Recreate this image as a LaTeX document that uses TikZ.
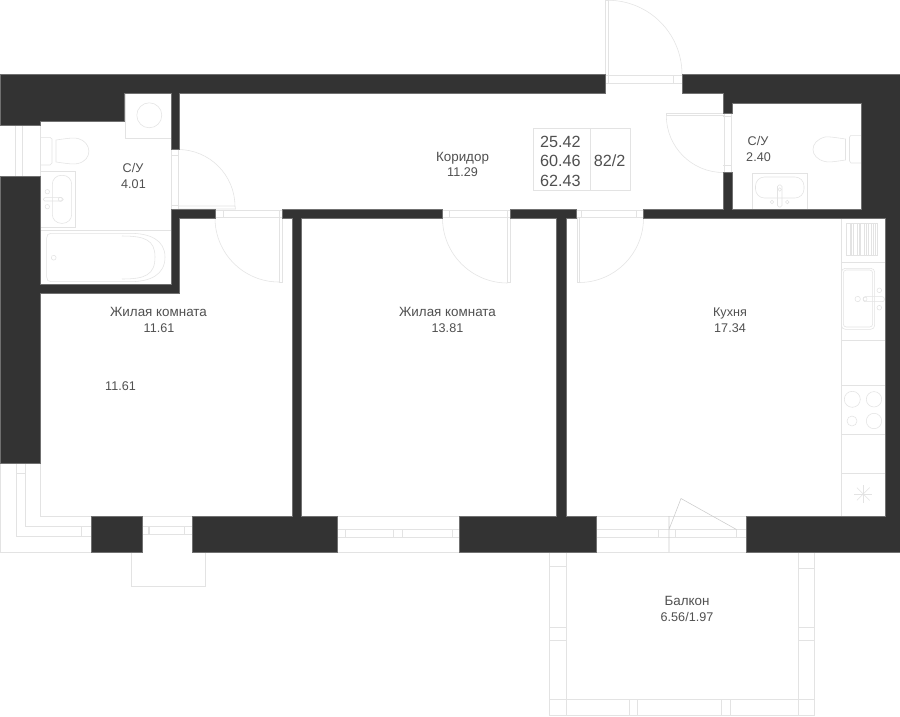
\documentclass[tikz,border=0pt]{standalone}
\usepackage{fontspec}
\setmainfont{Liberation Sans}
\definecolor{wallc}{HTML}{333333}
\definecolor{fixc}{HTML}{E3E3E3}
\definecolor{txtc}{HTML}{505050}
\tikzset{
  wall/.style={fill=wallc,draw=wallc!70!white,line width=.25pt},
  fx/.style={draw=fixc,line width=.55pt,fill=none},
  lbl/.style={text=txtc,font=\fontsize{12.6}{14}\selectfont,inner sep=0pt,anchor=base},
  word/.style={text=txtc,font=\fontsize{13.4}{14}\selectfont,inner sep=0pt,anchor=base},
  big/.style={text=txtc,font=\fontsize{16.2}{18}\selectfont,inner sep=0pt,anchor=base}
}
\begin{document}
\begin{tikzpicture}[x=1pt,y=-1pt]
\useasboundingbox[fill=white] (0,0) rectangle (900,716);
% --- thin fixtures, windows, doors
\draw[fx] (0.5,463)--(0.5,552)--(91.5,552);
\draw[fx] (16.5,463)--(16.5,536)--(91.5,536);
\draw[fx] (25.5,463)--(25.5,526)--(91.5,526);
\draw[fx] (40.5,463)--(40.5,516)--(91.5,516);
\draw[fx] (16.5,473.5)--(25.5,473.5) (81,526)--(81,536);
% left upper window
\draw[fx] (0,125.5)--(40.5,125.5) (0,176)--(40.5,176) (40.5,125.5)--(40.5,176) (15.5,125.5)--(15.5,176) (22.5,125.5)--(22.5,176);
% window 142-192
\draw[fx] (142,516)--(192.5,516) (142,526)--(192.5,526) (142,534.5)--(192.5,534.5);
\draw[fx] (148,526)--(148,534.5) (149,526)--(149,534.5) (184.5,526)--(184.5,534.5);
\draw[fx] (131.5,552)--(131.5,586)--(205.5,586)--(205.5,552);
% window 337-460
\draw[fx] (337.5,516)--(459.5,516) (337.5,529.5)--(459.5,529.5) (337.5,537.5)--(459.5,537.5) (337.5,552)--(459.5,552);
\foreach \q in {345,393,402.5,451.8} \draw[fx] (\q,529.5)--(\q,537.5);
% window/door 596-746
\draw[fx] (596,516)--(746,516) (596,529.5)--(746,529.5) (596,537.5)--(746,537.5) (596,552)--(746,552);
\foreach \q in {658.7,675.5,736.5} \draw[fx] (\q,529.5)--(\q,537.5);
\draw[fx,draw=fixc!90!black] (669,516)--(669,552) (669,529.5)--(681,498.5)--(736.5,529.5);
% balcony
\draw[fx] (549.5,552)--(549.5,716) (566.5,552)--(566.5,716) (798.5,552)--(798.5,716) (814.7,552)--(814.7,716);
\draw[fx] (549.5,699.5)--(814.7,699.5) (549.5,715.5)--(814.7,715.5);
\draw[fx] (549.5,566.5)--(566.5,566.5) (549.5,627)--(566.5,627) (549.5,640.5)--(566.5,640.5);
\draw[fx] (798.5,568.5)--(814.7,568.5) (798.5,627)--(814.7,627) (798.5,640.5)--(814.7,640.5);
\foreach \q in {629.6,637.6,721.6,730} \draw[fx] (\q,699.5)--(\q,715.5);
% entrance door
\draw[fx] (605,75)--(605,0)--(608,0)--(608,75);
\draw[fx] (608,0.3) arc[start angle=-90,end angle=0,radius=74];
\draw[fx] (605,75)--(682,75) (605,83.5)--(682,83.5) (673.5,75)--(673.5,83.5) (608,75)--(608,83.5);
% wc-1 door
\draw[fx] (171.5,149.5)--(171.5,208.5) (178,149.5)--(178,208.5) (171,155)--(179,155) (171,205.5)--(179,205.5);
\draw[fx] (178,149.5) arc[start angle=-90,end angle=0,radius=57];
\draw[fx] (178,206)--(235,206)--(235.5,209)--(178,209);
% room door 1
\draw[fx] (215,210)--(282,210) (215,217.5)--(282,217.5) (223,210)--(223,217.5) (279,210)--(279,217.5);
\draw[fx] (279,218)--(279,282)--(282,282)--(282,218);
\draw[fx] (215,218) arc[start angle=180,end angle=90,radius=64];
% room door 2
\draw[fx] (442.5,210)--(510,210) (442.5,217.5)--(510,217.5) (449.7,210)--(449.7,217.5) (507,210)--(507,217.5);
\draw[fx] (507.5,218)--(507.5,282)--(510,282)--(510,218);
\draw[fx] (442.5,218) arc[start angle=180,end angle=90,radius=65];
% kitchen door
\draw[fx] (576.5,210)--(643.5,210) (576.5,217.5)--(643.5,217.5) (581,210)--(581,217.5) (636,210)--(636,217.5);
\draw[fx] (577,218)--(577,282)--(579,282)--(579,218);
\draw[fx] (643.5,218) arc[start angle=0,end angle=90,radius=64.5];
% wc-2 door
\draw[fx] (724,113.5)--(724,172.5) (731,113.5)--(731,172.5) (723,116.5)--(732,116.5) (723,165)--(732,165);
\draw[fx] (723.5,113.5)--(666.3,113.5)--(666.3,115.5)--(723.5,115.5);
\draw[fx] (666.3,115.5) arc[start angle=180,end angle=90,radius=57];
% washer
\draw[fx] (125.5,93)--(125.5,138.5)--(171,138.5);
\draw[fx] (149.3,115.3) circle[radius=12.5];
% wc-1 toilet
\draw[fx] (40.5,137.3)--(50,137.3)--(52,139)--(52,163)--(50,165)--(40.5,165);
\draw[fx] (56,140) .. controls (70,138) and (74,137.5) .. (78,138.5) .. controls (92,142) and (93,160) .. (78,163.5) .. controls (74,164.5) and (70,164) .. (56,162) -- cycle;
% wc-1 sink
\draw[fx] (40.5,171.3)--(75.5,171.3)--(75.5,227.3)--(40.5,227.3);
\draw[fx,rounded corners=9pt] (52.3,175.3) rectangle (71.7,223.3);
\draw[fx,rounded corners=1.5pt] (43.3,197.7) rectangle (63.3,201);
\draw[fx] (47.3,191.7) circle[radius=2.2] (47.3,206.7) circle[radius=2.2] (60.3,199.3) circle[radius=2];
% wc-1 bath
\draw[fx] (40.5,230.3)--(171,230.3);
\draw[fx] (51,233.3)--(130,233.3) .. controls (150,233.3) and (165,240) .. (165,257) .. controls (165,275) and (150,281.7) .. (130,281.7)--(51,281.7) .. controls (48,281.7) and (46.7,280) .. (46.7,277)--(46.7,238) .. controls (46.7,235) and (48,233.3) .. (51,233.3);
\draw[fx] (122,236) .. controls (145,236) and (155,240) .. (155,257) .. controls (155,275) and (145,279) .. (122,279);
\draw[fx] (53.7,257.7) circle[radius=2.4];
% wc-2 toilet
\draw[fx] (861.5,135.3)--(851,135.3)--(849.5,137)--(849.5,161)--(851,163)--(861.5,163);
\draw[fx] (845.5,139) .. controls (832,137) and (828,136.5) .. (825,137) .. controls (809,141) and (809,158) .. (825,161.5) .. controls (828,162.5) and (832,162) .. (845.5,160) -- cycle;
% wc-2 sink
\draw[fx] (752.5,209)--(752.5,173.5)--(807.5,173.5)--(807.5,209);
\draw[fx,rounded corners=9pt] (755.5,177) rectangle (804,198);
\draw[fx,rounded corners=1.5pt] (777.5,185) rectangle (782,207);
\draw[fx] (772,202) circle[radius=1.8] (787.3,202) circle[radius=1.8] (779.7,189.5) circle[radius=1.8];
% kitchen counter
\draw[fx] (841.3,218)--(841.3,516);
\draw[fx] (841.3,262)--(885,262) (841.3,340.3)--(885,340.3) (841.3,385)--(885,385) (841.3,434)--(885,434) (841.3,473.3)--(885,473.3);
\draw[fx] (846.3,223) rectangle (877.7,255);
\foreach \q in {850,851.5,853.5,857,859,860.5,864,866,868,871,873.5,875.5} \draw[fx,line width=.5pt] (\q,223)--(\q,255);
\draw[fx,rounded corners=4pt] (841.3,268.3) rectangle (874.7,329.3);
\draw[fx,rounded corners=3pt] (843.3,270) rectangle (872.7,327);
\draw[fx,rounded corners=2pt] (863.3,296.7) rectangle (884.3,301.7);
\draw[fx] (879.3,290.3) circle[radius=2.3] (879.3,307.7) circle[radius=2.3] (857.7,299) circle[radius=2.7] (865,299) circle[radius=2];
\draw[fx] (852.3,399.3) circle[radius=8] (874,399.3) circle[radius=7.7] (852,421) circle[radius=5] (874,421) circle[radius=7.7];
\foreach \a in {0,45,...,315} \draw[fx,line width=.5pt] (863.3,494)--++(\a:9);
% table
\draw[fx] (533.3,128.3) rectangle (630.3,190) (590.3,128.3)--(590.3,190);
% --- walls
\path[wall] (0,74.5)--(605,74.5)--(605,93)--(179.5,93)--(179.5,149.5)--(171,149.5)--(171,93)--(124.5,93)--(124.5,121.5)--(40.5,121.5)--(40.5,125.5)--(0,125.5)--cycle;
\path[wall] (0,176)--(40.5,176)--(40.5,284)--(171,284)--(171,209)--(215,209)--(215,218)--(179.5,218)--(179.5,293)--(40.5,293)--(40.5,463)--(0,463)--cycle;
\path[wall] (282,209)--(442.5,209)--(442.5,218)--(301,218)--(301,516)--(337.5,516)--(337.5,552)--(192.5,552)--(192.5,516)--(292,516)--(292,218)--(282,218)--cycle;
\path[wall] (91.5,516) rectangle (142,552);
\path[wall] (510,209)--(576.5,209)--(576.5,218)--(566,218)--(566,516)--(596,516)--(596,552)--(459.5,552)--(459.5,516)--(556.5,516)--(556.5,218)--(510,218)--cycle;
\path[wall] (682,74.5)--(900,74.5)--(900,552)--(746,552)--(746,516)--(885,516)--(885,218)--(643.5,218)--(643.5,209)--(723.5,209)--(723.5,172.5)--(732.5,172.5)--(732.5,209)--(861.5,209)--(861.5,103)--(732.5,103)--(732.5,113.5)--(723.5,113.5)--(723.5,93)--(682,93)--cycle;
% --- labels
\node[word] (kor)  at (462.5,161) {Коридор};
\node[lbl] (korv) at (462.5,176) {11.29};
\node[lbl] (wa)   at (133,172.5) {С/У};
\node[lbl] (wav)  at (133.5,188.5) {4.01};
\node[lbl] (wb)   at (758,145.5) {С/У};
\node[lbl] (wbv)  at (758.5,161.5) {2.40};
\node[word] (ra)   at (158.5,316.5) {Жилая комната};
\node[lbl] (rav)  at (159,332.5) {11.61};
\node[lbl] (rax)  at (120.5,390.5) {11.61};
\node[word] (rb)   at (447.5,316.5) {Жилая комната};
\node[lbl] (rbv)  at (447.5,332.5) {13.81};
\node[lbl] (ku)   at (730,316.5) {Кухня};
\node[lbl] (kuv)  at (730,332.5) {17.34};
\node[word] (ba)   at (687,605.5) {Балкон};
\node[lbl] (bav)  at (687,621.5) {6.56/1.97};
\node[big] (ta)   at (560.3,147) {25.42};
\node[big] (tb)   at (560.3,166.5) {60.46};
\node[big] (tc)   at (560.3,186.5) {62.43};
\node[big] (td)   at (609.7,166.5) {82/2};
\end{tikzpicture}
\end{document}
